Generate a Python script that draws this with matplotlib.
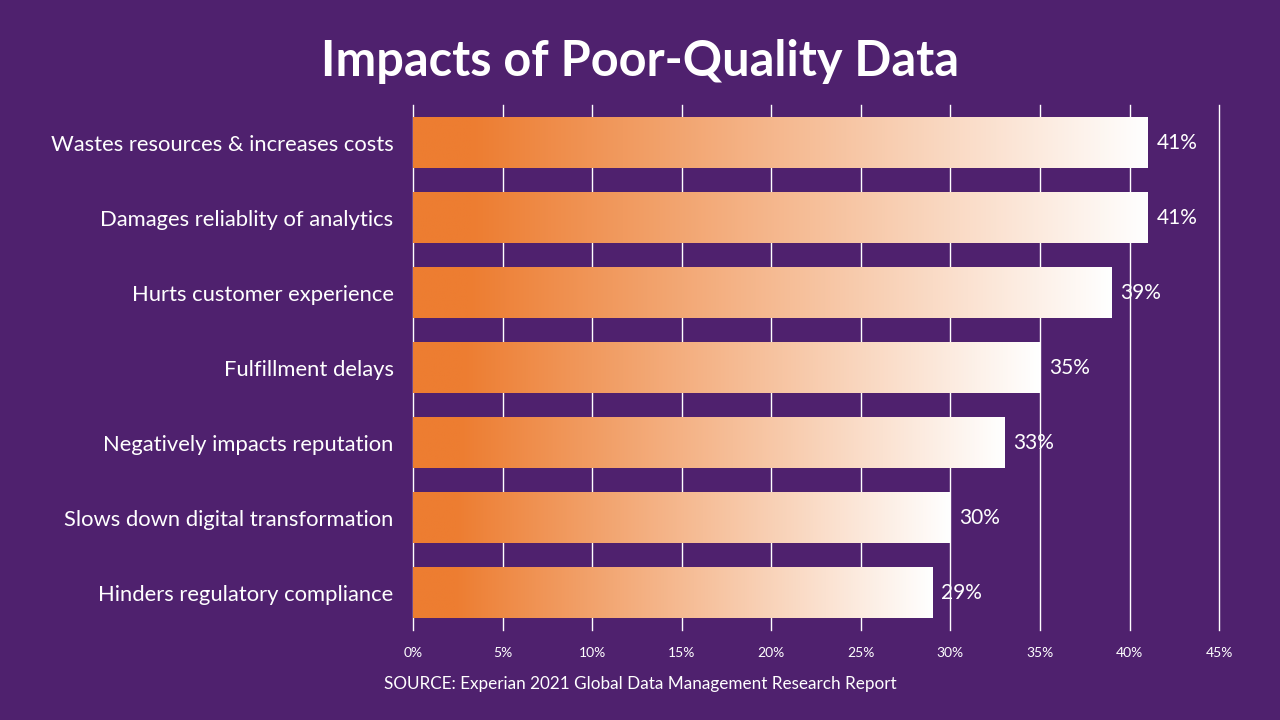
import numpy as np
import matplotlib.pyplot as plt
from matplotlib.colors import LinearSegmentedColormap

categories = [
    "Wastes resources & increases costs",
    "Damages reliablity of analytics",
    "Hurts customer experience",
    "Fulfillment delays",
    "Negatively impacts reputation",
    "Slows down digital transformation",
    "Hinders regulatory compliance",
]
values = [41, 41, 39, 35, 33, 30, 29]
ticks = [0, 5, 10, 15, 20, 25, 30, 35, 40, 45]

bg = "#4F216E"
orange = "#ED7D31"
fade = LinearSegmentedColormap.from_list(
    "fade", [(0.0, orange), (0.08, orange), (1.0, "#FFFFFF")])

plt.rcParams['font.family'] = ['Lato', 'DejaVu Sans']

fig = plt.figure(figsize=(12.8, 7.2), dpi=100, facecolor=bg)
ax = fig.add_axes([0.3227, 0.125, 0.6297, 0.729])
ax.set_facecolor(bg)

grad = np.linspace(0, 1, 256).reshape(1, -1)
h = 0.67
for i, v in enumerate(values):
    ax.imshow(grad, cmap=fade, aspect='auto', interpolation='bilinear',
              extent=[0, v, i + h / 2, i - h / 2], zorder=3)
    ax.text(v + 0.5, i, f"{v}%", color="white", fontsize=15,
            va='center', ha='left', zorder=4)

ax.set_xlim(0, 45)
ax.set_ylim(len(values) - 0.5, -0.5)
ax.set_xticks(ticks)
ax.set_xticklabels([f"{t}%" for t in ticks], color="white", fontsize=10)
ax.set_yticks(range(len(categories)))
ax.set_yticklabels(categories, color="white", fontsize=15.8)
ax.tick_params(length=0, pad=12)
ax.tick_params(axis='y', pad=14)
ax.grid(axis='x', color="white", lw=1, zorder=0)
for gl in ax.get_xgridlines():
    gl.set_clip_on(False)
ax.set_axisbelow(True)
for s in ax.spines.values():
    s.set_visible(False)

fig.text(0.5, 0.915, "Impacts of Poor-Quality Data", color="white",
         fontsize=35, fontweight='bold', ha='center', va='center')
fig.text(0.5, 0.05, "SOURCE: Experian 2021 Global Data Management Research Report",
         color="white", fontsize=12.3, ha='center', va='center')

fig.savefig("out.png", dpi=100, facecolor=bg)
